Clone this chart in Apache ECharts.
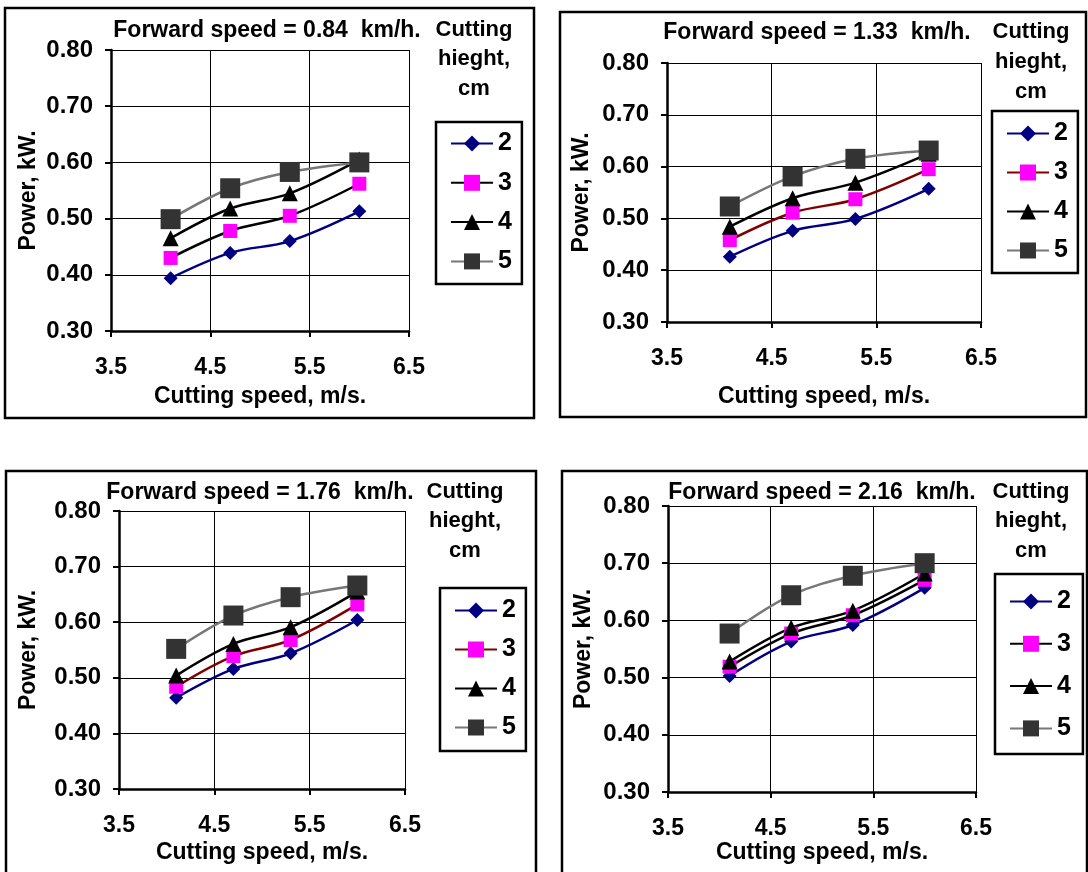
<!DOCTYPE html>
<html><head><meta charset="utf-8">
<script src="https://cdn.jsdelivr.net/npm/echarts@6/dist/echarts.min.js"></script>
<style>html,body{margin:0;padding:0;background:#fff}#c{width:1088px;height:872px}</style>
</head><body><div id="c"></div>
<script>
// ---------------- DATA ----------------
const cuttingSpeed = [4.1, 4.7, 5.3, 6.0];            // m/s
const cuttingHeights = ['2', '3', '4', '5'];           // cm
const forwardSpeeds = ['0.84', '1.33', '1.76', '2.16']; // km/h
const xTickValues = [3.5, 4.5, 5.5, 6.5];
const yTickMin = 0.3, yTickMax = 0.8, yTickStep = 0.1;

// Power, kW  (forward speed 0.84 km/h)
const fs084_h2 = [0.394, 0.439, 0.460, 0.513];
const fs084_h3 = [0.430, 0.478, 0.505, 0.562];
const fs084_h4 = [0.465, 0.518, 0.545, 0.605];
const fs084_h5 = [0.499, 0.554, 0.583, 0.600];
// forward speed 1.33 km/h
const fs133_h2 = [0.426, 0.476, 0.499, 0.557];
const fs133_h3 = [0.458, 0.511, 0.537, 0.595];
const fs133_h4 = [0.484, 0.539, 0.569, 0.625];
const fs133_h5 = [0.523, 0.581, 0.615, 0.631];
// forward speed 1.76 km/h
const fs176_h2 = [0.464, 0.516, 0.544, 0.604];
const fs176_h3 = [0.484, 0.539, 0.568, 0.632];
const fs176_h4 = [0.504, 0.561, 0.591, 0.655];
const fs176_h5 = [0.552, 0.612, 0.645, 0.666];
// forward speed 2.16 km/h
const fs216_h2 = [0.503, 0.563, 0.592, 0.657];
const fs216_h3 = [0.519, 0.577, 0.609, 0.671];
const fs216_h4 = [0.528, 0.587, 0.617, 0.682];
const fs216_h5 = [0.577, 0.644, 0.678, 0.700];

const panelData = [
  [fs084_h2, fs084_h3, fs084_h4, fs084_h5],
  [fs133_h2, fs133_h3, fs133_h4, fs133_h5],
  [fs176_h2, fs176_h3, fs176_h4, fs176_h5],
  [fs216_h2, fs216_h3, fs216_h4, fs216_h5]
];

// ---------------- LAYOUT / STYLE ----------------
const FONT = '"Liberation Sans", Arial, Helvetica, sans-serif';
const layout = [
  {grid:{left:111, top:50, width:298, height:281}, box:[5,8,529,410], title:[267,31], legT:[474,[30,59,89]],
   leg:{left:436, top:122, gap:14.3, pad:[9,10,10,14]}, yGap:71, xGap:54, h3line:'#000000'},
  {grid:{left:667, top:63, width:314, height:259}, box:[560,12,526,405], title:[817,33], legT:[1031,[32,62,92]],
   leg:{left:992, top:111, gap:14, pad:[10,10,10,14]}, yGap:74, xGap:63, h3line:'#800000'},
  {grid:{left:119, top:511, width:286, height:278}, box:[6,471,530,420], title:[260,493], legT:[465,[492,521,551]],
   leg:{left:440, top:588, gap:14, pad:[10,10,11,14]}, yGap:79, xGap:52, h3line:'#800000'},
  {grid:{left:668, top:506, width:308, height:286}, box:[562,471,525,420], title:[822,493], legT:[1031,[492,521,551]],
   leg:{left:995, top:574, gap:17.3, pad:[15,12,13,14]}, yGap:73, xGap:49, h3line:'#000000'}
];
const seriesStyle = [
  {symbol:'diamond', size:14, fill:'#000080', line:'#000080'},
  {symbol:'rect', size:14, fill:'#FF00FF', line:null},
  {symbol:'triangle', size:16, fill:'#000000', line:'#000000'},
  {symbol:'rect', size:20, fill:'#333333', line:'#777777'}
];

const grids = [], xAxes = [], yAxes = [], series = [], legends = [], graphics = [];
const txt = (size) => ({fontFamily: FONT, fontWeight: 'bold', fontSize: size, color: '#000'});

layout.forEach((L, p) => {
  grids.push(Object.assign({containLabel:false}, L.grid));
  xAxes.push({
    type:'value', gridIndex:p, min:xTickValues[0], max:xTickValues[xTickValues.length-1],
    name:'Cutting speed, m/s.', nameLocation:'middle', nameGap:L.xGap, nameTextStyle:txt(23),
    axisLine:{onZero:false, lineStyle:{color:'#000', width:2.5}},
    axisTick:{show:true, length:6, inside:false, customValues:xTickValues, lineStyle:{color:'#000', width:2}},
    axisLabel:Object.assign({margin:25, customValues:xTickValues, formatter:v => Number(v).toFixed(1)}, txt(23)),
    splitLine:{show:true, lineStyle:{color:'#000', width:1}}
  });
  yAxes.push({
    type:'value', gridIndex:p, min:yTickMin, max:yTickMax, interval:yTickStep,
    name:'Power, kW.', nameLocation:'middle', nameGap:L.yGap, nameRotate:90, nameTextStyle:txt(23),
    axisLine:{show:true, onZero:false, lineStyle:{color:'#000', width:2.5}},
    axisTick:{show:true, length:6, lineStyle:{color:'#000', width:2}},
    axisLabel:Object.assign({margin:18, formatter:v => Number(v).toFixed(2)}, txt(24)),
    splitLine:{show:true, lineStyle:{color:'#000', width:1}}
  });
  const names = [];
  panelData[p].forEach((vals, i) => {
    const S = seriesStyle[i];
    const name = p + '-' + cuttingHeights[i];
    names.push(name);
    series.push({
      type:'line', name, xAxisIndex:p, yAxisIndex:p,
      data: cuttingSpeed.map((x, k) => [x, vals[k]]),
      smooth:0.35, symbol:S.symbol, symbolSize:S.size,
      itemStyle:{color:S.fill, borderWidth:0},
      lineStyle:{color:S.line || L.h3line, width:2.5},
      emphasis:{disabled:true}
    });
  });
  legends.push({
    data:names, orient:'vertical', left:L.leg.left, top:L.leg.top,
    itemWidth:42, itemHeight:20, itemGap:L.leg.gap, padding:L.leg.pad,
    borderColor:'#000', borderWidth:2.5, backgroundColor:'#fff',
    formatter: n => n.split('-')[1],
    textStyle:Object.assign({lineHeight:24}, txt(25)),
    selectedMode:false
  });
  // panel border
  graphics.push({type:'rect', shape:{x:L.box[0], y:L.box[1], width:L.box[2], height:L.box[3]},
    style:{fill:'none', stroke:'#000', lineWidth:2.5}, z:-1, silent:true});
  // title
  graphics.push({type:'text', x:L.title[0], y:L.title[1],
    style:{text:'Forward speed = ' + forwardSpeeds[p] + '  km/h.', font:'bold 23px ' + FONT, fill:'#000',
      textAlign:'center', textVerticalAlign:'middle'}, silent:true});
  // legend title
  ['Cutting', 'hieght,', 'cm'].forEach((t, j) => {
    graphics.push({type:'text', x:L.legT[0], y:L.legT[1][j],
      style:{text:t, font:'bold 22px ' + FONT, fill:'#000', textAlign:'center', textVerticalAlign:'middle'}, silent:true});
  });
});

const chart = echarts.init(document.getElementById('c'), null, {renderer:'canvas'});
chart.setOption({
  animation:false,
  backgroundColor:'#fff',
  grid:grids, xAxis:xAxes, yAxis:yAxes, series, legend:legends,
  graphic:{elements:graphics}
});
</script></body></html>
